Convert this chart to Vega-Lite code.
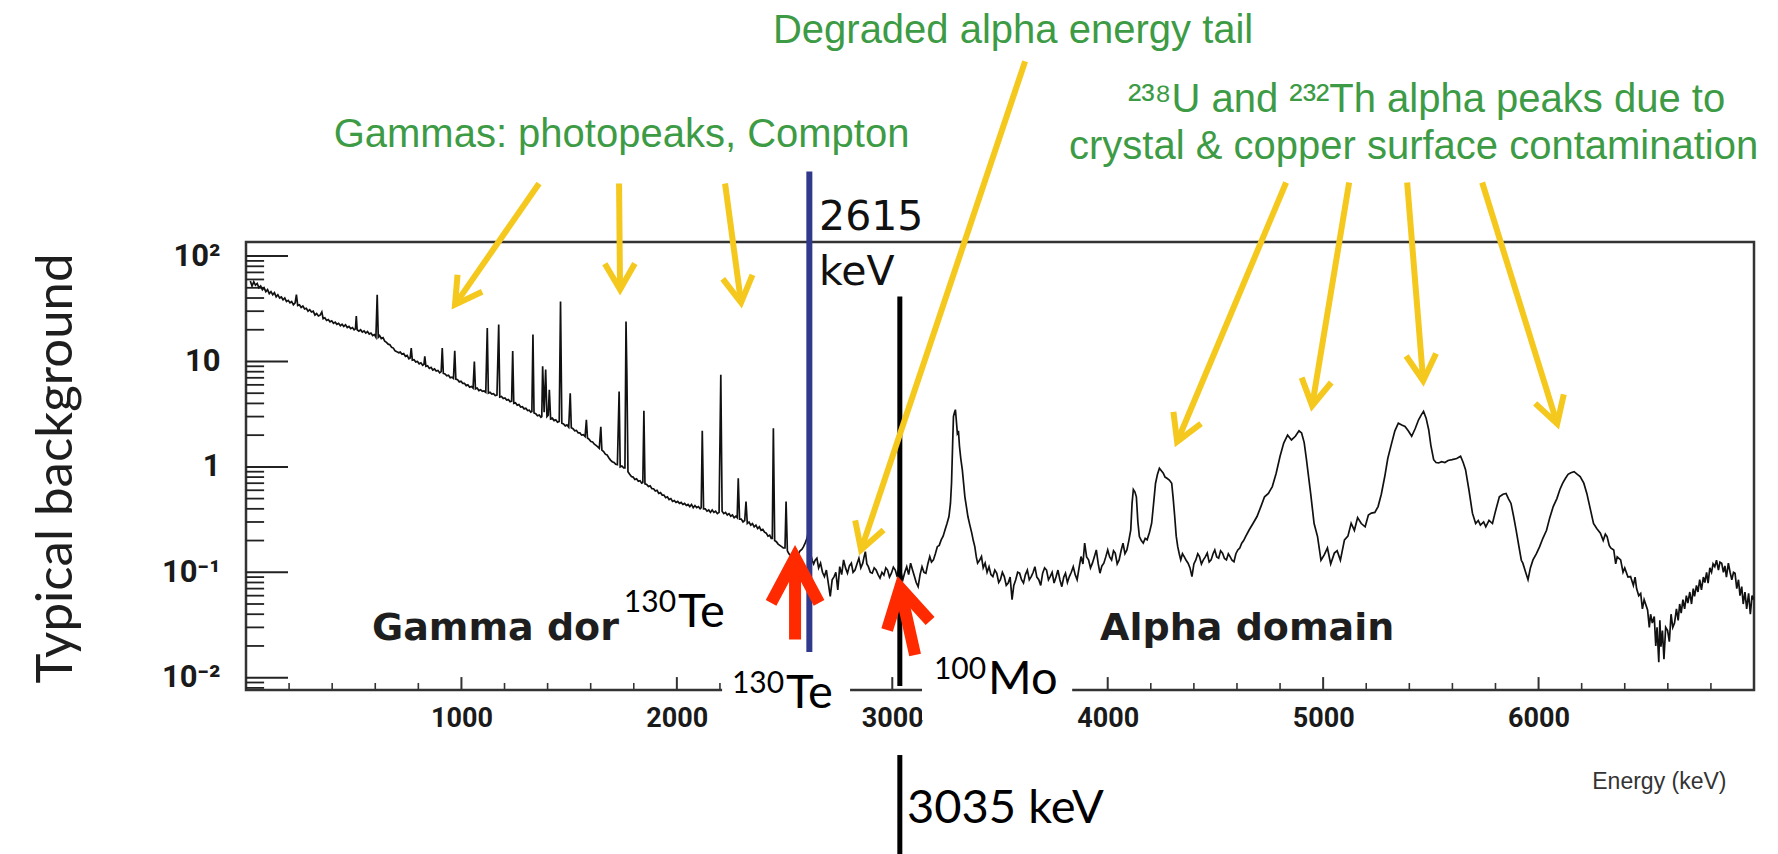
{
  "$schema": "https://vega.github.io/schema/vega-lite/v6.json",
  "width": 1508,
  "height": 448,
  "autosize": {"type": "none"},
  "padding": {"left": 246, "top": 242, "right": 24, "bottom": 164},
  "background": "white",
  "config": {"view": {"stroke": "#333333", "strokeWidth": 2.5}},
  "resolve": {"axis": {"x": "independent", "y": "independent"}},
  "datasets": {
    "xMajor": [{"E": 1000}, {"E": 2000}, {"E": 3000}, {"E": 4000}, {"E": 5000}, {"E": 6000}],
    "xMinor": [{"E": 200}, {"E": 400}, {"E": 600}, {"E": 800}, {"E": 1200}, {"E": 1400}, {"E": 1600}, {"E": 1800}, {"E": 2200}, {"E": 2400}, {"E": 2600}, {"E": 2800}, {"E": 3200}, {"E": 3400}, {"E": 3600}, {"E": 3800}, {"E": 4200}, {"E": 4400}, {"E": 4600}, {"E": 4800}, {"E": 5200}, {"E": 5400}, {"E": 5600}, {"E": 5800}, {"E": 6200}, {"E": 6400}, {"E": 6600}, {"E": 6800}],
    "yMajor": [{"V": 0.01}, {"V": 0.1}, {"V": 1}, {"V": 10}, {"V": 100}],
    "yMinor": [{"V": 0.008}, {"V": 0.009}, {"V": 0.02}, {"V": 0.03}, {"V": 0.04}, {"V": 0.05}, {"V": 0.06}, {"V": 0.07}, {"V": 0.08}, {"V": 0.09}, {"V": 0.2}, {"V": 0.3}, {"V": 0.4}, {"V": 0.5}, {"V": 0.6}, {"V": 0.7}, {"V": 0.8}, {"V": 0.9}, {"V": 2}, {"V": 3}, {"V": 4}, {"V": 5}, {"V": 6}, {"V": 7}, {"V": 8}, {"V": 9}, {"V": 20}, {"V": 30}, {"V": 40}, {"V": 50}, {"V": 60}, {"V": 70}, {"V": 80}, {"V": 90}],
    "spectrum": [
      {"energy": 20, "counts": 58}, {"energy": 28, "counts": 52}, {"energy": 36, "counts": 57}, {"energy": 44, "counts": 53}, {"energy": 52, "counts": 55}, {"energy": 60, "counts": 50}, {"energy": 68, "counts": 52}, {"energy": 76, "counts": 48}, {"energy": 84, "counts": 50}, {"energy": 92, "counts": 46}, {"energy": 100, "counts": 48}, {"energy": 108, "counts": 44}, {"energy": 116, "counts": 46}, {"energy": 124, "counts": 43}, {"energy": 132, "counts": 45}, {"energy": 140, "counts": 41}, {"energy": 148, "counts": 43}, {"energy": 156, "counts": 40}, {"energy": 164, "counts": 41}, {"energy": 172, "counts": 38.5}, {"energy": 180, "counts": 40}, {"energy": 188, "counts": 37}, {"energy": 196, "counts": 38}, {"energy": 204, "counts": 36}, {"energy": 212, "counts": 37}, {"energy": 220, "counts": 34.5}, {"energy": 228, "counts": 36}, {"energy": 234, "counts": 43}, {"energy": 240, "counts": 34}, {"energy": 248, "counts": 34.5}, {"energy": 256, "counts": 32.5}, {"energy": 264, "counts": 33.5}, {"energy": 272, "counts": 31.5}, {"energy": 280, "counts": 32}, {"energy": 288, "counts": 30}, {"energy": 296, "counts": 31}, {"energy": 304, "counts": 29.5}, {"energy": 312, "counts": 30}, {"energy": 320, "counts": 27.5}, {"energy": 328, "counts": 28.5}, {"energy": 336, "counts": 27}, {"energy": 344, "counts": 27.5}, {"energy": 352, "counts": 29.5}, {"energy": 358, "counts": 25.5}, {"energy": 366, "counts": 26}, {"energy": 374, "counts": 24.5}, {"energy": 382, "counts": 25}, {"energy": 390, "counts": 23.8}, {"energy": 398, "counts": 24.3}, {"energy": 406, "counts": 23}, {"energy": 414, "counts": 23.6}, {"energy": 422, "counts": 22.5}, {"energy": 430, "counts": 23}, {"energy": 438, "counts": 21.8}, {"energy": 446, "counts": 22.6}, {"energy": 454, "counts": 21.5}, {"energy": 462, "counts": 22.3}, {"energy": 470, "counts": 21}, {"energy": 478, "counts": 21.5}, {"energy": 486, "counts": 20.5}, {"energy": 494, "counts": 21}, {"energy": 502, "counts": 20}, {"energy": 508, "counts": 20.4}, {"energy": 512, "counts": 27}, {"energy": 516, "counts": 20}, {"energy": 524, "counts": 19.4}, {"energy": 532, "counts": 20}, {"energy": 540, "counts": 19}, {"energy": 548, "counts": 19.5}, {"energy": 556, "counts": 18.6}, {"energy": 564, "counts": 19.2}, {"energy": 572, "counts": 18.2}, {"energy": 580, "counts": 18.6}, {"energy": 588, "counts": 17.6}, {"energy": 596, "counts": 18}, {"energy": 603, "counts": 17}, {"energy": 609, "counts": 43}, {"energy": 614, "counts": 17}, {"energy": 620, "counts": 17.6}, {"energy": 628, "counts": 16.5}, {"energy": 636, "counts": 16.8}, {"energy": 644, "counts": 15.6}, {"energy": 652, "counts": 15.2}, {"energy": 660, "counts": 14.6}, {"energy": 668, "counts": 14.4}, {"energy": 676, "counts": 13.6}, {"energy": 684, "counts": 13.4}, {"energy": 692, "counts": 12.6}, {"energy": 700, "counts": 12.4}, {"energy": 708, "counts": 12.1}, {"energy": 716, "counts": 12.3}, {"energy": 724, "counts": 11.7}, {"energy": 732, "counts": 11.9}, {"energy": 740, "counts": 11.2}, {"energy": 748, "counts": 11.4}, {"energy": 756, "counts": 10.6}, {"energy": 762, "counts": 10.8}, {"energy": 767, "counts": 13.4}, {"energy": 772, "counts": 10.3}, {"energy": 780, "counts": 10.4}, {"energy": 788, "counts": 9.9}, {"energy": 796, "counts": 10}, {"energy": 804, "counts": 9.5}, {"energy": 812, "counts": 9.7}, {"energy": 820, "counts": 9.2}, {"energy": 826, "counts": 9.4}, {"energy": 830, "counts": 11.2}, {"energy": 835, "counts": 9}, {"energy": 843, "counts": 9.1}, {"energy": 851, "counts": 8.6}, {"energy": 859, "counts": 8.8}, {"energy": 867, "counts": 8.3}, {"energy": 875, "counts": 8.5}, {"energy": 883, "counts": 8.1}, {"energy": 891, "counts": 8.2}, {"energy": 899, "counts": 7.8}, {"energy": 906, "counts": 8.0}, {"energy": 911, "counts": 13.4}, {"energy": 916, "counts": 7.7}, {"energy": 924, "counts": 7.6}, {"energy": 932, "counts": 7.3}, {"energy": 940, "counts": 7.4}, {"energy": 948, "counts": 7.0}, {"energy": 956, "counts": 7.1}, {"energy": 963, "counts": 6.9}, {"energy": 969, "counts": 12.6}, {"energy": 974, "counts": 6.8}, {"energy": 982, "counts": 6.7}, {"energy": 990, "counts": 6.4}, {"energy": 998, "counts": 6.5}, {"energy": 1006, "counts": 6.2}, {"energy": 1014, "counts": 6.2}, {"energy": 1022, "counts": 5.9}, {"energy": 1030, "counts": 6.0}, {"energy": 1038, "counts": 5.7}, {"energy": 1046, "counts": 5.8}, {"energy": 1054, "counts": 5.6}, {"energy": 1060, "counts": 10}, {"energy": 1065, "counts": 5.5}, {"energy": 1073, "counts": 5.6}, {"energy": 1081, "counts": 5.3}, {"energy": 1089, "counts": 5.4}, {"energy": 1097, "counts": 5.2}, {"energy": 1105, "counts": 5.25}, {"energy": 1113, "counts": 5.1}, {"energy": 1120, "counts": 20.8}, {"energy": 1125, "counts": 5.0}, {"energy": 1133, "counts": 5.1}, {"energy": 1141, "counts": 4.9}, {"energy": 1149, "counts": 4.95}, {"energy": 1157, "counts": 4.75}, {"energy": 1165, "counts": 4.8}, {"energy": 1173, "counts": 22.4}, {"energy": 1178, "counts": 4.6}, {"energy": 1186, "counts": 4.65}, {"energy": 1194, "counts": 4.45}, {"energy": 1202, "counts": 4.5}, {"energy": 1210, "counts": 4.3}, {"energy": 1218, "counts": 4.35}, {"energy": 1226, "counts": 4.15}, {"energy": 1233, "counts": 4.2}, {"energy": 1238, "counts": 12.6}, {"energy": 1243, "counts": 4.0}, {"energy": 1251, "counts": 4.05}, {"energy": 1259, "counts": 3.85}, {"energy": 1267, "counts": 3.9}, {"energy": 1275, "counts": 3.7}, {"energy": 1283, "counts": 3.72}, {"energy": 1291, "counts": 3.55}, {"energy": 1299, "counts": 3.6}, {"energy": 1307, "counts": 3.42}, {"energy": 1315, "counts": 3.45}, {"energy": 1322, "counts": 3.3}, {"energy": 1327, "counts": 3.35}, {"energy": 1332, "counts": 18}, {"energy": 1337, "counts": 3.25}, {"energy": 1345, "counts": 3.2}, {"energy": 1353, "counts": 3.05}, {"energy": 1361, "counts": 3.1}, {"energy": 1369, "counts": 2.95}, {"energy": 1373, "counts": 3.0}, {"energy": 1377, "counts": 9}, {"energy": 1384, "counts": 3.3}, {"energy": 1391, "counts": 8.4}, {"energy": 1397, "counts": 3.0}, {"energy": 1403, "counts": 3.1}, {"energy": 1408, "counts": 5.4}, {"energy": 1414, "counts": 2.85}, {"energy": 1422, "counts": 2.9}, {"energy": 1430, "counts": 2.75}, {"energy": 1438, "counts": 2.8}, {"energy": 1446, "counts": 2.65}, {"energy": 1454, "counts": 2.7}, {"energy": 1460, "counts": 37}, {"energy": 1466, "counts": 2.6}, {"energy": 1474, "counts": 2.55}, {"energy": 1482, "counts": 2.45}, {"energy": 1490, "counts": 2.5}, {"energy": 1498, "counts": 2.38}, {"energy": 1505, "counts": 5}, {"energy": 1510, "counts": 2.35}, {"energy": 1518, "counts": 2.3}, {"energy": 1526, "counts": 2.2}, {"energy": 1534, "counts": 2.22}, {"energy": 1542, "counts": 2.1}, {"energy": 1550, "counts": 2.1}, {"energy": 1558, "counts": 2.0}, {"energy": 1566, "counts": 2.02}, {"energy": 1574, "counts": 1.94}, {"energy": 1580, "counts": 2.8}, {"energy": 1585, "counts": 1.88}, {"energy": 1593, "counts": 1.82}, {"energy": 1601, "counts": 1.74}, {"energy": 1609, "counts": 1.72}, {"energy": 1617, "counts": 1.64}, {"energy": 1625, "counts": 1.6}, {"energy": 1633, "counts": 1.55}, {"energy": 1640, "counts": 1.5}, {"energy": 1647, "counts": 2.4}, {"energy": 1652, "counts": 1.44}, {"energy": 1660, "counts": 1.4}, {"energy": 1668, "counts": 1.32}, {"energy": 1676, "counts": 1.3}, {"energy": 1684, "counts": 1.22}, {"energy": 1692, "counts": 1.16}, {"energy": 1700, "counts": 1.12}, {"energy": 1708, "counts": 1.1}, {"energy": 1716, "counts": 1.06}, {"energy": 1724, "counts": 1.05}, {"energy": 1732, "counts": 5.2}, {"energy": 1737, "counts": 1.0}, {"energy": 1745, "counts": 1.02}, {"energy": 1753, "counts": 0.98}, {"energy": 1759, "counts": 0.98}, {"energy": 1764, "counts": 24}, {"energy": 1768, "counts": 7.5}, {"energy": 1773, "counts": 0.9}, {"energy": 1781, "counts": 0.85}, {"energy": 1789, "counts": 0.81}, {"energy": 1797, "counts": 0.8}, {"energy": 1805, "counts": 0.76}, {"energy": 1813, "counts": 0.77}, {"energy": 1821, "counts": 0.73}, {"energy": 1829, "counts": 0.74}, {"energy": 1837, "counts": 0.7}, {"energy": 1842, "counts": 0.71}, {"energy": 1847, "counts": 3.4}, {"energy": 1852, "counts": 0.69}, {"energy": 1860, "counts": 0.68}, {"energy": 1868, "counts": 0.65}, {"energy": 1876, "counts": 0.66}, {"energy": 1884, "counts": 0.62}, {"energy": 1892, "counts": 0.62}, {"energy": 1900, "counts": 0.59}, {"energy": 1908, "counts": 0.6}, {"energy": 1916, "counts": 0.56}, {"energy": 1924, "counts": 0.57}, {"energy": 1932, "counts": 0.54}, {"energy": 1940, "counts": 0.54}, {"energy": 1948, "counts": 0.51}, {"energy": 1956, "counts": 0.52}, {"energy": 1964, "counts": 0.49}, {"energy": 1972, "counts": 0.5}, {"energy": 1980, "counts": 0.47}, {"energy": 1988, "counts": 0.48}, {"energy": 1996, "counts": 0.46}, {"energy": 2004, "counts": 0.47}, {"energy": 2012, "counts": 0.45}, {"energy": 2020, "counts": 0.46}, {"energy": 2028, "counts": 0.44}, {"energy": 2036, "counts": 0.45}, {"energy": 2044, "counts": 0.43}, {"energy": 2052, "counts": 0.44}, {"energy": 2060, "counts": 0.42}, {"energy": 2068, "counts": 0.44}, {"energy": 2076, "counts": 0.41}, {"energy": 2084, "counts": 0.43}, {"energy": 2092, "counts": 0.41}, {"energy": 2100, "counts": 0.42}, {"energy": 2108, "counts": 0.4}, {"energy": 2113, "counts": 0.41}, {"energy": 2118, "counts": 2.2}, {"energy": 2124, "counts": 0.4}, {"energy": 2132, "counts": 0.4}, {"energy": 2140, "counts": 0.38}, {"energy": 2148, "counts": 0.39}, {"energy": 2156, "counts": 0.37}, {"energy": 2164, "counts": 0.39}, {"energy": 2172, "counts": 0.37}, {"energy": 2180, "counts": 0.38}, {"energy": 2188, "counts": 0.36}, {"energy": 2196, "counts": 0.37}, {"energy": 2204, "counts": 7.5}, {"energy": 2210, "counts": 0.38}, {"energy": 2218, "counts": 0.36}, {"energy": 2226, "counts": 0.37}, {"energy": 2234, "counts": 0.35}, {"energy": 2242, "counts": 0.36}, {"energy": 2250, "counts": 0.34}, {"energy": 2258, "counts": 0.35}, {"energy": 2266, "counts": 0.33}, {"energy": 2274, "counts": 0.34}, {"energy": 2280, "counts": 0.33}, {"energy": 2285, "counts": 0.78}, {"energy": 2291, "counts": 0.32}, {"energy": 2299, "counts": 0.32}, {"energy": 2307, "counts": 0.3}, {"energy": 2315, "counts": 0.31}, {"energy": 2321, "counts": 0.47}, {"energy": 2327, "counts": 0.29}, {"energy": 2335, "counts": 0.3}, {"energy": 2343, "counts": 0.28}, {"energy": 2351, "counts": 0.29}, {"energy": 2359, "counts": 0.27}, {"energy": 2367, "counts": 0.28}, {"energy": 2375, "counts": 0.26}, {"energy": 2383, "counts": 0.27}, {"energy": 2391, "counts": 0.25}, {"energy": 2399, "counts": 0.255}, {"energy": 2407, "counts": 0.24}, {"energy": 2415, "counts": 0.235}, {"energy": 2423, "counts": 0.22}, {"energy": 2431, "counts": 0.225}, {"energy": 2438, "counts": 0.21}, {"energy": 2443, "counts": 0.21}, {"energy": 2448, "counts": 2.33}, {"energy": 2454, "counts": 0.2}, {"energy": 2462, "counts": 0.195}, {"energy": 2470, "counts": 0.185}, {"energy": 2478, "counts": 0.18}, {"energy": 2486, "counts": 0.175}, {"energy": 2494, "counts": 0.17}, {"energy": 2502, "counts": 0.17}, {"energy": 2507, "counts": 0.47}, {"energy": 2513, "counts": 0.16}, {"energy": 2520, "counts": 0.15}, {"energy": 2527, "counts": 0.145}, {"energy": 2534, "counts": 0.136}, {"energy": 2541, "counts": 0.142}, {"energy": 2548, "counts": 0.138}, {"energy": 2556, "counts": 0.148}, {"energy": 2564, "counts": 0.15}, {"energy": 2572, "counts": 0.16}, {"energy": 2580, "counts": 0.165}, {"energy": 2588, "counts": 0.175}, {"energy": 2596, "counts": 0.19}, {"energy": 2604, "counts": 0.21}, {"energy": 2610, "counts": 0.24}, {"energy": 2615, "counts": 0.5}, {"energy": 2621, "counts": 0.15}, {"energy": 2628, "counts": 0.13}, {"energy": 2635, "counts": 0.12}, {"energy": 2642, "counts": 0.13},
      {"energy": 2650, "counts": 0.136}, {"energy": 2658, "counts": 0.11}, {"energy": 2667, "counts": 0.122}, {"energy": 2676, "counts": 0.1}, {"energy": 2685, "counts": 0.091}, {"energy": 2694, "counts": 0.105}, {"energy": 2703, "counts": 0.079}, {"energy": 2712, "counts": 0.059}, {"energy": 2721, "counts": 0.085}, {"energy": 2730, "counts": 0.091}, {"energy": 2738, "counts": 0.1}, {"energy": 2747, "counts": 0.068}, {"energy": 2756, "counts": 0.113}, {"energy": 2765, "counts": 0.095}, {"energy": 2774, "counts": 0.131}, {"energy": 2783, "counts": 0.11}, {"energy": 2792, "counts": 0.098}, {"energy": 2801, "counts": 0.115}, {"energy": 2810, "counts": 0.122}, {"energy": 2818, "counts": 0.1}, {"energy": 2827, "counts": 0.105}, {"energy": 2836, "counts": 0.12}, {"energy": 2845, "counts": 0.136}, {"energy": 2854, "counts": 0.11}, {"energy": 2863, "counts": 0.122}, {"energy": 2869, "counts": 0.14}, {"energy": 2875, "counts": 0.157}, {"energy": 2882, "counts": 0.12}, {"energy": 2889, "counts": 0.113}, {"energy": 2898, "counts": 0.1}, {"energy": 2907, "counts": 0.098}, {"energy": 2916, "counts": 0.11}, {"energy": 2925, "counts": 0.105}, {"energy": 2934, "counts": 0.095}, {"energy": 2943, "counts": 0.088}, {"energy": 2952, "counts": 0.1}, {"energy": 2961, "counts": 0.094}, {"energy": 2970, "counts": 0.11}, {"energy": 2978, "counts": 0.105}, {"energy": 2987, "counts": 0.09}, {"energy": 2996, "counts": 0.098}, {"energy": 3005, "counts": 0.112}, {"energy": 3014, "counts": 0.105}, {"energy": 3023, "counts": 0.09}, {"energy": 3032, "counts": 0.122}, {"energy": 3040, "counts": 0.1}, {"energy": 3049, "counts": 0.085}, {"energy": 3058, "counts": 0.1}, {"energy": 3067, "counts": 0.113}, {"energy": 3076, "counts": 0.095}, {"energy": 3085, "counts": 0.122}, {"energy": 3094, "counts": 0.105}, {"energy": 3103, "counts": 0.091}, {"energy": 3111, "counts": 0.08}, {"energy": 3120, "counts": 0.073}, {"energy": 3129, "counts": 0.095}, {"energy": 3138, "counts": 0.113}, {"energy": 3147, "counts": 0.1}, {"energy": 3156, "counts": 0.098}, {"energy": 3165, "counts": 0.12}, {"energy": 3174, "counts": 0.141}, {"energy": 3182, "counts": 0.125}, {"energy": 3191, "counts": 0.131}, {"energy": 3200, "counts": 0.15}, {"energy": 3209, "counts": 0.175}, {"energy": 3218, "counts": 0.18}, {"energy": 3227, "counts": 0.203}, {"energy": 3236, "counts": 0.22}, {"energy": 3245, "counts": 0.253}, {"energy": 3254, "counts": 0.29}, {"energy": 3263, "counts": 0.338}, {"energy": 3270, "counts": 0.45}, {"energy": 3275, "counts": 0.7}, {"energy": 3280, "counts": 1.6}, {"energy": 3284, "counts": 3.01}, {"energy": 3289, "counts": 3.3}, {"energy": 3293, "counts": 3.49}, {"energy": 3297, "counts": 2.8}, {"energy": 3302, "counts": 2.09}, {"energy": 3307, "counts": 2.2}, {"energy": 3312, "counts": 1.56}, {"energy": 3318, "counts": 1.2}, {"energy": 3325, "counts": 0.94}, {"energy": 3331, "counts": 0.7}, {"energy": 3337, "counts": 0.52}, {"energy": 3344, "counts": 0.42}, {"energy": 3351, "counts": 0.338}, {"energy": 3360, "counts": 0.28}, {"energy": 3369, "counts": 0.235}, {"energy": 3376, "counts": 0.2}, {"energy": 3383, "counts": 0.175}, {"energy": 3390, "counts": 0.14}, {"energy": 3396, "counts": 0.122}, {"energy": 3405, "counts": 0.13}, {"energy": 3414, "counts": 0.141}, {"energy": 3422, "counts": 0.11}, {"energy": 3431, "counts": 0.122}, {"energy": 3440, "counts": 0.1}, {"energy": 3449, "counts": 0.113}, {"energy": 3458, "counts": 0.095}, {"energy": 3467, "counts": 0.091}, {"energy": 3476, "counts": 0.105}, {"energy": 3485, "counts": 0.098}, {"energy": 3494, "counts": 0.08}, {"energy": 3502, "counts": 0.085}, {"energy": 3511, "counts": 0.1}, {"energy": 3520, "counts": 0.091}, {"energy": 3529, "counts": 0.075}, {"energy": 3538, "counts": 0.079}, {"energy": 3547, "counts": 0.09}, {"energy": 3556, "counts": 0.055}, {"energy": 3564, "counts": 0.075}, {"energy": 3573, "counts": 0.085}, {"energy": 3582, "counts": 0.1}, {"energy": 3591, "counts": 0.098}, {"energy": 3600, "counts": 0.085}, {"energy": 3609, "counts": 0.079}, {"energy": 3618, "counts": 0.095}, {"energy": 3627, "counts": 0.105}, {"energy": 3636, "counts": 0.085}, {"energy": 3645, "counts": 0.091}, {"energy": 3654, "counts": 0.1}, {"energy": 3662, "counts": 0.113}, {"energy": 3671, "counts": 0.09}, {"energy": 3680, "counts": 0.085}, {"energy": 3689, "counts": 0.075}, {"energy": 3698, "counts": 0.098}, {"energy": 3707, "counts": 0.11}, {"energy": 3716, "counts": 0.105}, {"energy": 3725, "counts": 0.085}, {"energy": 3733, "counts": 0.091}, {"energy": 3742, "counts": 0.1}, {"energy": 3751, "counts": 0.079}, {"energy": 3760, "counts": 0.09}, {"energy": 3769, "counts": 0.105}, {"energy": 3778, "counts": 0.085}, {"energy": 3787, "counts": 0.073}, {"energy": 3796, "counts": 0.09}, {"energy": 3804, "counts": 0.098}, {"energy": 3813, "counts": 0.08}, {"energy": 3822, "counts": 0.091}, {"energy": 3831, "counts": 0.1}, {"energy": 3840, "counts": 0.113}, {"energy": 3849, "counts": 0.095}, {"energy": 3858, "counts": 0.085}, {"energy": 3867, "counts": 0.11}, {"energy": 3876, "counts": 0.141}, {"energy": 3885, "counts": 0.12}, {"energy": 3893, "counts": 0.189}, {"energy": 3902, "counts": 0.14}, {"energy": 3911, "counts": 0.131}, {"energy": 3920, "counts": 0.11}, {"energy": 3929, "counts": 0.122}, {"energy": 3938, "counts": 0.14}, {"energy": 3947, "counts": 0.163}, {"energy": 3956, "counts": 0.12}, {"energy": 3964, "counts": 0.098}, {"energy": 3973, "counts": 0.115}, {"energy": 3982, "counts": 0.122}, {"energy": 3991, "counts": 0.14}, {"energy": 4000, "counts": 0.163}, {"energy": 4009, "counts": 0.14}, {"energy": 4018, "counts": 0.131}, {"energy": 4027, "counts": 0.16}, {"energy": 4035, "counts": 0.152}, {"energy": 4044, "counts": 0.12}, {"energy": 4053, "counts": 0.131}, {"energy": 4062, "counts": 0.16}, {"energy": 4071, "counts": 0.189}, {"energy": 4080, "counts": 0.15}, {"energy": 4089, "counts": 0.163}, {"energy": 4098, "counts": 0.2}, {"energy": 4107, "counts": 0.253}, {"energy": 4113, "counts": 0.45}, {"energy": 4119, "counts": 0.61}, {"energy": 4126, "counts": 0.58}, {"energy": 4133, "counts": 0.52}, {"energy": 4140, "counts": 0.3}, {"energy": 4147, "counts": 0.218}, {"energy": 4156, "counts": 0.2}, {"energy": 4165, "counts": 0.189}, {"energy": 4174, "counts": 0.21}, {"energy": 4183, "counts": 0.203}, {"energy": 4194, "counts": 0.24}, {"energy": 4204, "counts": 0.292}, {"energy": 4213, "counts": 0.45}, {"energy": 4222, "counts": 0.7}, {"energy": 4231, "counts": 0.85}, {"energy": 4240, "counts": 0.97}, {"energy": 4249, "counts": 0.92}, {"energy": 4258, "counts": 0.87}, {"energy": 4266, "counts": 0.8}, {"energy": 4275, "counts": 0.78}, {"energy": 4286, "counts": 0.75}, {"energy": 4297, "counts": 0.7}, {"energy": 4304, "counts": 0.5}, {"energy": 4311, "counts": 0.338}, {"energy": 4318, "counts": 0.22}, {"energy": 4325, "counts": 0.175}, {"energy": 4332, "counts": 0.15}, {"energy": 4339, "counts": 0.131}, {"energy": 4347, "counts": 0.15}, {"energy": 4355, "counts": 0.141}, {"energy": 4364, "counts": 0.13}, {"energy": 4373, "counts": 0.122}, {"energy": 4382, "counts": 0.11}, {"energy": 4391, "counts": 0.091}, {"energy": 4400, "counts": 0.12}, {"energy": 4409, "counts": 0.131}, {"energy": 4418, "counts": 0.15}, {"energy": 4426, "counts": 0.141}, {"energy": 4435, "counts": 0.12}, {"energy": 4444, "counts": 0.131}, {"energy": 4453, "counts": 0.14}, {"energy": 4462, "counts": 0.152}, {"energy": 4471, "counts": 0.125}, {"energy": 4480, "counts": 0.131}, {"energy": 4489, "counts": 0.15}, {"energy": 4497, "counts": 0.163}, {"energy": 4506, "counts": 0.14}, {"energy": 4515, "counts": 0.136}, {"energy": 4524, "counts": 0.16}, {"energy": 4533, "counts": 0.152}, {"energy": 4542, "counts": 0.135}, {"energy": 4551, "counts": 0.131}, {"energy": 4560, "counts": 0.15}, {"energy": 4568, "counts": 0.141}, {"energy": 4577, "counts": 0.13}, {"energy": 4586, "counts": 0.126}, {"energy": 4595, "counts": 0.15}, {"energy": 4604, "counts": 0.163}, {"energy": 4613, "counts": 0.17}, {"energy": 4622, "counts": 0.189}, {"energy": 4631, "counts": 0.2}, {"energy": 4640, "counts": 0.218}, {"energy": 4657, "counts": 0.253}, {"energy": 4675, "counts": 0.292}, {"energy": 4693, "counts": 0.338}, {"energy": 4711, "counts": 0.42}, {"energy": 4728, "counts": 0.52}, {"energy": 4746, "counts": 0.56}, {"energy": 4764, "counts": 0.65}, {"energy": 4782, "counts": 0.87}, {"energy": 4800, "counts": 1.26}, {"energy": 4817, "counts": 1.68}, {"energy": 4835, "counts": 2.0}, {"energy": 4853, "counts": 1.8}, {"energy": 4871, "counts": 1.95}, {"energy": 4888, "counts": 2.2}, {"energy": 4900, "counts": 2.1}, {"energy": 4912, "counts": 1.7}, {"energy": 4922, "counts": 1.2}, {"energy": 4942, "counts": 0.56}, {"energy": 4958, "counts": 0.29}, {"energy": 4974, "counts": 0.218}, {"energy": 4990, "counts": 0.13}, {"energy": 5005, "counts": 0.146}, {"energy": 5020, "counts": 0.17}, {"energy": 5035, "counts": 0.12}, {"energy": 5052, "counts": 0.152}, {"energy": 5065, "counts": 0.16}, {"energy": 5080, "counts": 0.13}, {"energy": 5099, "counts": 0.203}, {"energy": 5115, "counts": 0.22}, {"energy": 5130, "counts": 0.292}, {"energy": 5145, "counts": 0.25}, {"energy": 5160, "counts": 0.33}, {"energy": 5177, "counts": 0.29}, {"energy": 5195, "counts": 0.27}, {"energy": 5210, "counts": 0.35}, {"energy": 5224, "counts": 0.364}, {"energy": 5240, "counts": 0.37}, {"energy": 5255, "counts": 0.42}, {"energy": 5270, "counts": 0.55}, {"energy": 5286, "counts": 0.81}, {"energy": 5300, "counts": 1.2}, {"energy": 5318, "counts": 1.68}, {"energy": 5333, "counts": 2.2}, {"energy": 5349, "counts": 2.6}, {"energy": 5365, "counts": 2.5}, {"energy": 5380, "counts": 2.42}, {"energy": 5395, "counts": 2.2}, {"energy": 5411, "counts": 1.95}, {"energy": 5427, "counts": 2.3}, {"energy": 5443, "counts": 2.8}, {"energy": 5455, "counts": 3.1}, {"energy": 5466, "counts": 3.36}, {"energy": 5478, "counts": 2.9}, {"energy": 5490, "counts": 2.25}, {"energy": 5500, "counts": 1.6}, {"energy": 5513, "counts": 1.17}, {"energy": 5524, "counts": 1.1}, {"energy": 5536, "counts": 1.09}, {"energy": 5550, "counts": 1.12}, {"energy": 5565, "counts": 1.1}, {"energy": 5580, "counts": 1.15}, {"energy": 5599, "counts": 1.17}, {"energy": 5620, "counts": 1.2}, {"energy": 5638, "counts": 1.26}, {"energy": 5650, "counts": 1.1}, {"energy": 5661, "counts": 0.94}, {"energy": 5677, "counts": 0.6}, {"energy": 5693, "counts": 0.364}, {"energy": 5708, "counts": 0.29}, {"energy": 5720, "counts": 0.31}, {"energy": 5730, "counts": 0.28}, {"energy": 5745, "counts": 0.3}, {"energy": 5755, "counts": 0.27}, {"energy": 5770, "counts": 0.31}, {"energy": 5786, "counts": 0.29}, {"energy": 5800, "counts": 0.38}, {"energy": 5818, "counts": 0.52}, {"energy": 5835, "counts": 0.55}, {"energy": 5849, "counts": 0.56}, {"energy": 5860, "counts": 0.5}, {"energy": 5872, "counts": 0.45}, {"energy": 5884, "counts": 0.34}, {"energy": 5896, "counts": 0.25}, {"energy": 5910, "counts": 0.17}, {"energy": 5920, "counts": 0.13}, {"energy": 5927, "counts": 0.122}, {"energy": 5940, "counts": 0.1}, {"energy": 5951, "counts": 0.085}, {"energy": 5962, "counts": 0.11}, {"energy": 5974, "counts": 0.131}, {"energy": 5990, "counts": 0.15}, {"energy": 6005, "counts": 0.175}, {"energy": 6020, "counts": 0.21}, {"energy": 6037, "counts": 0.25}, {"energy": 6052, "counts": 0.33}, {"energy": 6068, "counts": 0.42}, {"energy": 6085, "counts": 0.5}, {"energy": 6099, "counts": 0.61}, {"energy": 6112, "counts": 0.7}, {"energy": 6125, "counts": 0.78}, {"energy": 6137, "counts": 0.85}, {"energy": 6150, "counts": 0.88}, {"energy": 6165, "counts": 0.9}, {"energy": 6180, "counts": 0.85}, {"energy": 6193, "counts": 0.81}, {"energy": 6210, "counts": 0.7}, {"energy": 6224, "counts": 0.56}, {"energy": 6240, "counts": 0.4}, {"energy": 6255, "counts": 0.29}, {"energy": 6270, "counts": 0.26}, {"energy": 6287, "counts": 0.235}, {"energy": 6300, "counts": 0.2}, {"energy": 6310, "counts": 0.23}, {"energy": 6318, "counts": 0.218}, {"energy": 6328, "counts": 0.18}, {"energy": 6335, "counts": 0.17}, {"energy": 6349, "counts": 0.163}, {"energy": 6358, "counts": 0.12}, {"energy": 6365, "counts": 0.14}, {"energy": 6381, "counts": 0.131}, {"energy": 6392, "counts": 0.1}, {"energy": 6400, "counts": 0.11}, {"energy": 6415, "counts": 0.09}, {"energy": 6427, "counts": 0.091}, {"energy": 6440, "counts": 0.075}, {"energy": 6448, "counts": 0.09}, {"energy": 6455, "counts": 0.07}, {"energy": 6465, "counts": 0.06}, {"energy": 6474, "counts": 0.063}, {"energy": 6482, "counts": 0.045}, {"energy": 6490, "counts": 0.055}, {"energy": 6506, "counts": 0.044}, {"energy": 6514, "counts": 0.03}, {"energy": 6520, "counts": 0.04}, {"energy": 6528, "counts": 0.033}, {"energy": 6537, "counts": 0.038}, {"energy": 6544, "counts": 0.02}, {"energy": 6550, "counts": 0.03}, {"energy": 6558, "counts": 0.014}, {"energy": 6563, "counts": 0.035}, {"energy": 6568, "counts": 0.0197}, {"energy": 6575, "counts": 0.028}, {"energy": 6582, "counts": 0.015}, {"energy": 6590, "counts": 0.03}, {"energy": 6599, "counts": 0.028}, {"energy": 6607, "counts": 0.022}, {"energy": 6615, "counts": 0.04}, {"energy": 6623, "counts": 0.03}, {"energy": 6631, "counts": 0.033}, {"energy": 6640, "counts": 0.045}, {"energy": 6648, "counts": 0.035}, {"energy": 6655, "counts": 0.05}, {"energy": 6662, "counts": 0.041}, {"energy": 6670, "counts": 0.055}, {"energy": 6678, "counts": 0.045}, {"energy": 6686, "counts": 0.06}, {"energy": 6693, "counts": 0.051}, {"energy": 6702, "counts": 0.065}, {"energy": 6710, "counts": 0.05}, {"energy": 6718, "counts": 0.07}, {"energy": 6724, "counts": 0.059}, {"energy": 6733, "counts": 0.075}, {"energy": 6740, "counts": 0.065}, {"energy": 6748, "counts": 0.085}, {"energy": 6756, "counts": 0.068}, {"energy": 6765, "counts": 0.09}, {"energy": 6772, "counts": 0.08}, {"energy": 6780, "counts": 0.1}, {"energy": 6787, "counts": 0.079}, {"energy": 6795, "counts": 0.11}, {"energy": 6803, "counts": 0.1}, {"energy": 6810, "counts": 0.12}, {"energy": 6818, "counts": 0.113}, {"energy": 6826, "counts": 0.13}, {"energy": 6835, "counts": 0.105}, {"energy": 6842, "counts": 0.125}, {"energy": 6850, "counts": 0.122}, {"energy": 6858, "counts": 0.1}, {"energy": 6865, "counts": 0.115}, {"energy": 6872, "counts": 0.09}, {"energy": 6881, "counts": 0.122}, {"energy": 6889, "counts": 0.1}, {"energy": 6897, "counts": 0.085}, {"energy": 6905, "counts": 0.1}, {"energy": 6912, "counts": 0.098}, {"energy": 6920, "counts": 0.07}, {"energy": 6928, "counts": 0.085}, {"energy": 6935, "counts": 0.06}, {"energy": 6943, "counts": 0.073}, {"energy": 6950, "counts": 0.05}, {"energy": 6958, "counts": 0.065}, {"energy": 6966, "counts": 0.045}, {"energy": 6975, "counts": 0.063}, {"energy": 6983, "counts": 0.04}, {"energy": 6991, "counts": 0.06}, {"energy": 6998, "counts": 0.055}
    ],
    "domains": [
      {"E": 585, "V": 0.0228, "text": "Gamma dor"},
      {"E": 3964.7, "V": 0.0228, "text": "Alpha domain"}
    ],
    "boxes": [
      {"x1": 2210, "x2": 2804, "y1": 0.01754, "y2": 0.003556},
      {"x1": 3138, "x2": 3835, "y1": 0.02044, "y2": 0.003966}
    ],
    "calibLine": [{"E": 2615, "top": 634.6, "bottom": 0.01754}],
    "endpointLine": [
      {"E": 3035, "top": 41.25, "bottom": 0.00834},
      {"E": 3035, "top": 0.001845, "bottom": 0.000211}
    ],
    "yellowShafts": [
      {"x1": 1360.3, "y1": 488.1, "x2": 970.3, "y2": 34.62},
      {"x1": 1731.7, "y1": 488.1, "x2": 1736.3, "y2": 48.08},
      {"x1": 2223.8, "y1": 488.1, "x2": 2298.1, "y2": 36.17},
      {"x1": 3616.5, "y1": 7033, "x2": 2855.1, "y2": 0.1632},
      {"x1": 4828.2, "y1": 498.9, "x2": 4322.2, "y2": 1.731},
      {"x1": 5120.7, "y1": 498.9, "x2": 4948.9, "y2": 3.804},
      {"x1": 5390.0, "y1": 498.9, "x2": 5464.3, "y2": 6.572},
      {"x1": 5738.2, "y1": 498.9, "x2": 6086.4, "y2": 2.566}
    ],
    "yellowHeads": [
      {"arrow": 1, "pt": 0, "E": 1096.1, "V": 45.81}, {"arrow": 1, "pt": 1, "E": 970.3, "V": 34.62}, {"arrow": 1, "pt": 2, "E": 981.9, "V": 66.59},
      {"arrow": 2, "pt": 0, "E": 1805.0, "V": 85.06}, {"arrow": 2, "pt": 1, "E": 1736.3, "V": 48.08}, {"arrow": 2, "pt": 2, "E": 1665.7, "V": 84.51},
      {"arrow": 3, "pt": 0, "E": 2351.0, "V": 66.30}, {"arrow": 3, "pt": 1, "E": 2298.1, "V": 36.17}, {"arrow": 3, "pt": 2, "E": 2213.1, "V": 60.86},
      {"arrow": 4, "pt": 0, "E": 2959.6, "V": 0.2522}, {"arrow": 4, "pt": 1, "E": 2855.1, "V": 0.1632}, {"arrow": 4, "pt": 2, "E": 2827.8, "V": 0.3103},
      {"arrow": 5, "pt": 0, "E": 4433.2, "V": 2.572}, {"arrow": 5, "pt": 1, "E": 4322.2, "V": 1.731}, {"arrow": 5, "pt": 2, "E": 4305.0, "V": 3.322},
      {"arrow": 6, "pt": 0, "E": 5037.6, "V": 6.318}, {"arrow": 6, "pt": 1, "E": 4948.9, "V": 3.804}, {"arrow": 6, "pt": 2, "E": 4900.2, "V": 7.033},
      {"arrow": 7, "pt": 0, "E": 5524.1, "V": 11.885}, {"arrow": 7, "pt": 1, "E": 5464.3, "V": 6.572}, {"arrow": 7, "pt": 2, "E": 5385.3, "V": 11.27},
      {"arrow": 8, "pt": 0, "E": 6117.0, "V": 4.870}, {"arrow": 8, "pt": 1, "E": 6086.4, "V": 2.566}, {"arrow": 8, "pt": 2, "E": 5984.2, "V": 4.001}
    ],
    "redShafts": [
      {"x1": 2548.7, "y1": 0.1176, "x2": 2548.7, "y2": 0.0230},
      {"x1": 3043.2, "y1": 0.0610, "x2": 3105.8, "y2": 0.01643}
    ],
    "redHeads": [
      {"arrow": 1, "pt": 0, "E": 2437.3, "V": 0.05122}, {"arrow": 1, "pt": 1, "E": 2548.7, "V": 0.1370}, {"arrow": 1, "pt": 2, "E": 2660.2, "V": 0.05122},
      {"arrow": 2, "pt": 0, "E": 2975.9, "V": 0.02838}, {"arrow": 2, "pt": 1, "E": 3036.2, "V": 0.07108}, {"arrow": 2, "pt": 2, "E": 3175.5, "V": 0.03455}
    ],
    "notes": [
      {"E": 1743.3, "V": 1072.5, "text": "Gammas: photopeaks, Compton"},
      {"E": 3560.8, "V": 10423, "text": "Degraded alpha energy tail"},
      {"E": 5480, "V": 2306, "text": "²³⁸U and ²³²Th alpha peaks due to"},
      {"E": 5420, "V": 824.9, "text": "crystal & copper surface contamination"}
    ],
    "lineLabel": [
      {"E": 2660.2, "V": 178.5, "text": "2615"},
      {"E": 2660.2, "V": 53.6, "text": "keV"}
    ],
    "isotopes": [
      {"E": 2005.6, "V": 0.0305, "sup": "130", "main": "Te"},
      {"E": 2507, "V": 0.005157, "sup": "130", "main": "Te"},
      {"E": 3444.8, "V": 0.007003, "sup": "100", "main": "Mo"},
      {"E": 3068.7, "V": 0.000417, "sup": "", "main": "3035 keV"}
    ]
  },
  "layer": [
    {
      "data": {"name": "xMajor"},
      "mark": {"type": "rule", "color": "#333333", "strokeWidth": 2},
      "encoding": {
        "x": {"field": "E", "type": "quantitative", "scale": {"type": "linear", "domain": [0, 7000], "nice": false, "zero": false}, "axis": null},
        "y": {"datum": 0.00764, "type": "quantitative", "scale": {"type": "log", "domain": [0.00764, 136], "nice": false}, "axis": null},
        "y2": {"datum": 0.01013}
      }
    },
    {
      "data": {"name": "xMinor"},
      "mark": {"type": "rule", "color": "#333333", "strokeWidth": 1.6},
      "encoding": {
        "x": {"field": "E", "type": "quantitative", "scale": {"type": "linear", "domain": [0, 7000], "nice": false, "zero": false}, "axis": null},
        "y": {"datum": 0.00764, "type": "quantitative", "scale": {"type": "log", "domain": [0.00764, 136], "nice": false}, "axis": null},
        "y2": {"datum": 0.00891}
      }
    },
    {
      "data": {"name": "yMajor"},
      "mark": {"type": "rule", "color": "#222222", "strokeWidth": 2},
      "encoding": {
        "y": {"field": "V", "type": "quantitative", "scale": {"type": "log", "domain": [0.00764, 136], "nice": false}, "axis": null},
        "x": {"datum": 0, "type": "quantitative", "scale": {"type": "linear", "domain": [0, 7000], "nice": false, "zero": false}, "axis": null},
        "x2": {"datum": 195}
      }
    },
    {
      "data": {"name": "yMinor"},
      "mark": {"type": "rule", "color": "#222222", "strokeWidth": 1.8},
      "encoding": {
        "y": {"field": "V", "type": "quantitative", "scale": {"type": "log", "domain": [0.00764, 136], "nice": false}, "axis": null},
        "x": {"datum": 0, "type": "quantitative", "scale": {"type": "linear", "domain": [0, 7000], "nice": false, "zero": false}, "axis": null},
        "x2": {"datum": 84}
      }
    },
    {
      "data": {"name": "spectrum"},
      "mark": {"type": "line", "color": "#111111", "strokeWidth": 1.7, "strokeJoin": "miter"},
      "encoding": {
        "x": {
          "field": "energy", "type": "quantitative",
          "scale": {"type": "linear", "domain": [0, 7000], "nice": false, "zero": false},
          "axis": {
            "orient": "bottom",
            "values": [1000, 2000, 3000, 4000, 5000, 6000], "format": "d",
            "ticks": false, "domain": false, "grid": false,
            "labelFont": "Roboto", "labelFontSize": 27, "labelFontWeight": "bold", "labelColor": "#1a1a1a",
            "labelPadding": 15, "labelFlush": false, "labelOverlap": false,
            "title": "Energy (keV)", "titleFont": "Liberation Sans", "titleFontSize": 23,
            "titleFontWeight": "normal", "titleColor": "#333333",
            "titleAnchor": "end", "titleAlign": "right", "titleBaseline": "alphabetic",
            "titleX": 1480, "titleY": 98
          }
        },
        "y": {
          "field": "counts", "type": "quantitative",
          "scale": {"type": "log", "domain": [0.00764, 136], "nice": false},
          "axis": {
            "orient": "left",
            "values": [0.01, 0.1, 1, 10, 100],
            "labelExpr": "datum.value >= 99 ? '10²' : datum.value >= 9 ? '10' : datum.value >= 0.9 ? '1' : datum.value >= 0.09 ? '10⁻¹' : '10⁻²'",
            "ticks": false, "domain": false, "grid": false,
            "labelFont": "Roboto", "labelFontSize": 31, "labelFontWeight": "bold", "labelColor": "#1a1a1a",
            "labelPadding": 26, "labelOverlap": false, "labelFlush": false,
            "title": "Typical background", "titleFont": "Lato", "titleFontSize": 51,
            "titleFontWeight": "normal", "titleColor": "#1e1e1e",
            "titleAngle": 270, "titleAlign": "center", "titleBaseline": "middle",
            "titleX": -190, "titleY": 226
          }
        }
      }
    },
    {
      "data": {"name": "domains"},
      "mark": {"type": "text", "align": "left", "baseline": "alphabetic", "font": "DejaVu Sans", "fontWeight": "bold", "fontSize": 38, "color": "#1e1e1e"},
      "encoding": {
        "x": {"field": "E", "type": "quantitative", "scale": {"type": "linear", "domain": [0, 7000], "nice": false, "zero": false}, "axis": null},
        "y": {"field": "V", "type": "quantitative", "scale": {"type": "log", "domain": [0.00764, 136], "nice": false}, "axis": null},
        "text": {"field": "text"}
      }
    },
    {
      "data": {"name": "calibLine"},
      "mark": {"type": "rule", "color": "#30398c", "strokeWidth": 6},
      "encoding": {
        "x": {"field": "E", "type": "quantitative", "scale": {"type": "linear", "domain": [0, 7000], "nice": false, "zero": false}, "axis": null},
        "y": {"field": "top", "type": "quantitative", "scale": {"type": "log", "domain": [0.00764, 136], "nice": false}, "axis": null},
        "y2": {"field": "bottom"}
      }
    },
    {
      "data": {"name": "endpointLine"},
      "mark": {"type": "rule", "color": "#000000", "strokeWidth": 5},
      "encoding": {
        "x": {"field": "E", "type": "quantitative", "scale": {"type": "linear", "domain": [0, 7000], "nice": false, "zero": false}, "axis": null},
        "y": {"field": "top", "type": "quantitative", "scale": {"type": "log", "domain": [0.00764, 136], "nice": false}, "axis": null},
        "y2": {"field": "bottom"}
      }
    },
    {
      "data": {"name": "boxes"},
      "mark": {"type": "rect", "color": "#ffffff"},
      "encoding": {
        "x": {"field": "x1", "type": "quantitative", "scale": {"type": "linear", "domain": [0, 7000], "nice": false, "zero": false}, "axis": null},
        "x2": {"field": "x2"},
        "y": {"field": "y1", "type": "quantitative", "scale": {"type": "log", "domain": [0.00764, 136], "nice": false}, "axis": null},
        "y2": {"field": "y2"}
      }
    },
    {
      "data": {"name": "yellowShafts"},
      "mark": {"type": "rule", "color": "#f5c81e", "strokeWidth": 6},
      "encoding": {
        "x": {"field": "x1", "type": "quantitative", "scale": {"type": "linear", "domain": [0, 7000], "nice": false, "zero": false}, "axis": null},
        "x2": {"field": "x2"},
        "y": {"field": "y1", "type": "quantitative", "scale": {"type": "log", "domain": [0.00764, 136], "nice": false}, "axis": null},
        "y2": {"field": "y2"}
      }
    },
    {
      "data": {"name": "yellowHeads"},
      "mark": {"type": "line", "color": "#f5c81e", "strokeWidth": 6, "strokeJoin": "miter", "strokeCap": "butt"},
      "encoding": {
        "x": {"field": "E", "type": "quantitative", "scale": {"type": "linear", "domain": [0, 7000], "nice": false, "zero": false}, "axis": null},
        "y": {"field": "V", "type": "quantitative", "scale": {"type": "log", "domain": [0.00764, 136], "nice": false}, "axis": null},
        "detail": {"field": "arrow", "type": "nominal"},
        "order": {"field": "pt", "type": "quantitative"}
      }
    },
    {
      "data": {"name": "redShafts"},
      "mark": {"type": "rule", "color": "#ff2a00", "strokeWidth": 12},
      "encoding": {
        "x": {"field": "x1", "type": "quantitative", "scale": {"type": "linear", "domain": [0, 7000], "nice": false, "zero": false}, "axis": null},
        "x2": {"field": "x2"},
        "y": {"field": "y1", "type": "quantitative", "scale": {"type": "log", "domain": [0.00764, 136], "nice": false}, "axis": null},
        "y2": {"field": "y2"}
      }
    },
    {
      "data": {"name": "redHeads"},
      "mark": {"type": "line", "color": "#ff2a00", "strokeWidth": 12, "strokeJoin": "miter", "strokeCap": "butt"},
      "encoding": {
        "x": {"field": "E", "type": "quantitative", "scale": {"type": "linear", "domain": [0, 7000], "nice": false, "zero": false}, "axis": null},
        "y": {"field": "V", "type": "quantitative", "scale": {"type": "log", "domain": [0.00764, 136], "nice": false}, "axis": null},
        "detail": {"field": "arrow", "type": "nominal"},
        "order": {"field": "pt", "type": "quantitative"}
      }
    },
    {
      "data": {"name": "notes"},
      "mark": {"type": "text", "align": "center", "baseline": "alphabetic", "font": "Liberation Sans", "fontSize": 40, "color": "#3d9b45"},
      "encoding": {
        "x": {"field": "E", "type": "quantitative", "scale": {"type": "linear", "domain": [0, 7000], "nice": false, "zero": false}, "axis": null},
        "y": {"field": "V", "type": "quantitative", "scale": {"type": "log", "domain": [0.00764, 136], "nice": false}, "axis": null},
        "text": {"field": "text"}
      }
    },
    {
      "data": {"name": "lineLabel"},
      "mark": {"type": "text", "align": "left", "baseline": "alphabetic", "font": "DejaVu Sans", "fontSize": 41, "color": "#111111"},
      "encoding": {
        "x": {"field": "E", "type": "quantitative", "scale": {"type": "linear", "domain": [0, 7000], "nice": false, "zero": false}, "axis": null},
        "y": {"field": "V", "type": "quantitative", "scale": {"type": "log", "domain": [0.00764, 136], "nice": false}, "axis": null},
        "text": {"field": "text"}
      }
    },
    {
      "data": {"name": "isotopes"},
      "mark": {"type": "text", "align": "right", "baseline": "alphabetic", "font": "Lato", "fontSize": 30, "dx": -2, "dy": -15, "color": "#000000"},
      "encoding": {
        "x": {"field": "E", "type": "quantitative", "scale": {"type": "linear", "domain": [0, 7000], "nice": false, "zero": false}, "axis": null},
        "y": {"field": "V", "type": "quantitative", "scale": {"type": "log", "domain": [0.00764, 136], "nice": false}, "axis": null},
        "text": {"field": "sup"}
      }
    },
    {
      "data": {"name": "isotopes"},
      "mark": {"type": "text", "align": "left", "baseline": "alphabetic", "font": "Lato", "fontSize": 47, "color": "#000000"},
      "encoding": {
        "x": {"field": "E", "type": "quantitative", "scale": {"type": "linear", "domain": [0, 7000], "nice": false, "zero": false}, "axis": null},
        "y": {"field": "V", "type": "quantitative", "scale": {"type": "log", "domain": [0.00764, 136], "nice": false}, "axis": null},
        "text": {"field": "main"}
      }
    }
  ]
}
